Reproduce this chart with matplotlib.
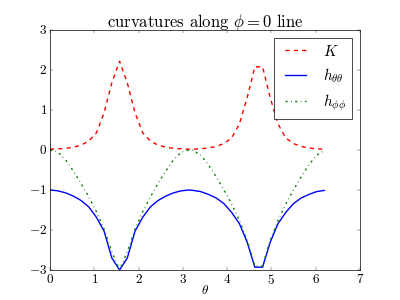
import matplotlib
matplotlib.use("Agg")
import matplotlib.pyplot as plt
import numpy as np

plt.style.use("classic")
plt.rcParams["font.family"] = "serif"
plt.rcParams["font.serif"] = ["cmr10", "DejaVu Serif"]
plt.rcParams["mathtext.fontset"] = "cm"
plt.rcParams["axes.formatter.use_mathtext"] = True
plt.rcParams["font.size"] = 19
plt.rcParams["xtick.labelsize"] = 19
plt.rcParams["ytick.labelsize"] = 19
plt.rcParams["legend.fontsize"] = 22
plt.rcParams["axes.titlesize"] = 24
plt.rcParams["axes.labelsize"] = 19

# sample angles in degrees (first half on 10-degree grid, second half offset by 5)
theta_deg = [0, 10, 20, 30, 40, 50, 60, 70, 80, 90, 100, 110, 120, 130, 140, 150, 160, 170, 180,
             185, 195, 205, 215, 225, 235, 245, 255, 265, 275, 285, 295, 305, 315, 325, 335, 345, 355]

K = [0.02, 0.03, 0.04, 0.07, 0.12, 0.22, 0.43, 0.93, 1.68, 2.22, 1.68, 0.93, 0.43, 0.22, 0.12, 0.07, 0.04, 0.03, 0.02,
     0.02, 0.03, 0.05, 0.09, 0.16, 0.30, 0.65, 1.30, 2.08, 2.08, 1.30, 0.65, 0.30, 0.16, 0.09, 0.05, 0.03, 0.02]

h_tt = [-1.00, -1.02, -1.07, -1.15, -1.26, -1.42, -1.68, -2.03, -2.70, -3.00, -2.70, -2.03, -1.68, -1.42, -1.26, -1.15, -1.07, -1.02, -1.00,
        -1.01, -1.04, -1.11, -1.20, -1.34, -1.56, -1.84, -2.30, -2.93, -2.93, -2.30, -1.84, -1.56, -1.34, -1.20, -1.11, -1.04, -1.01]

h_pp = [0.00, -0.05, -0.24, -0.52, -0.83, -1.17, -1.54, -1.98, -2.55, -3.00, -2.55, -1.98, -1.54, -1.17, -0.83, -0.52, -0.24, -0.05, 0.00,
        -0.01, -0.13, -0.37, -0.67, -1.00, -1.35, -1.76, -2.25, -2.90, -2.90, -2.25, -1.76, -1.35, -1.00, -0.67, -0.37, -0.13, -0.01]

theta = np.deg2rad(theta_deg)

fig = plt.figure(figsize=(8, 6), dpi=50)
ax = fig.add_subplot(111)
ax.plot(theta, K, "r--", lw=2, label=r"$K$")
ax.plot(theta, h_tt, "b-", lw=2, label=r"$h_{\theta\theta}$")
ax.plot(theta, h_pp, "g-.", lw=2, label=r"$h_{\phi\phi}$")
ax.set_xlim(0, 7)
ax.set_ylim(-3, 3)
ax.set_xlabel(r"$\theta$", labelpad=-4)
ax.set_title(r"curvatures along $\phi=0$ line")
ax.legend(loc="upper right")
fig.savefig("out.png", dpi=50)
